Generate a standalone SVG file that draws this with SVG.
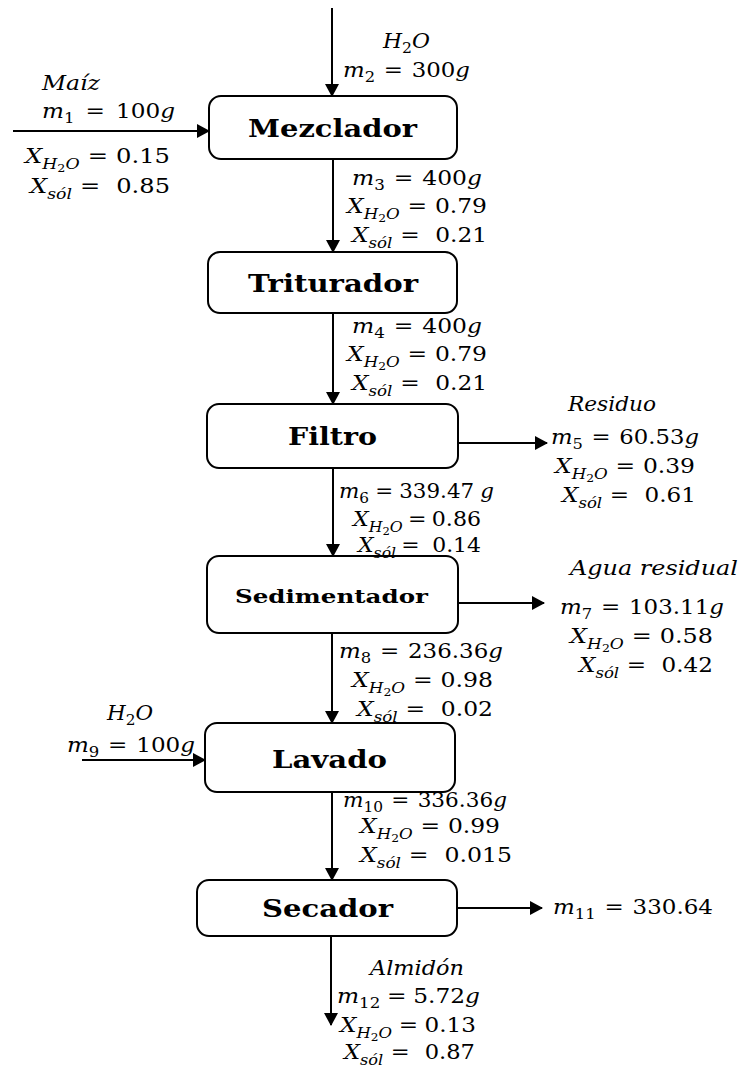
<svg xmlns="http://www.w3.org/2000/svg" width="743" height="1067" viewBox="0 0 743 1067">
<style>
.box{fill:#fff;stroke:#000;stroke-width:2}
.ttl{font-family:"DejaVu Serif","Liberation Serif",serif;font-weight:bold;font-size:24px;fill:#000}
.t{font-family:"DejaVu Serif","Liberation Serif",serif;font-size:21px;fill:#000}
.i{font-style:italic}
.s{font-size:15px}
.ss{font-size:11px}
.ln{stroke:#000;stroke-width:2;fill:none}
</style>
<defs>
<marker id="ah" markerUnits="userSpaceOnUse" markerWidth="13" markerHeight="14" refX="12" refY="7" orient="auto">
<path d="M0,0 L13,7 L0,14 z" fill="#000"/>
</marker>
</defs>
<rect width="743" height="1067" fill="#fff"/>

<g id="connectors">
<line class="ln" x1="332" y1="8" x2="332" y2="96" marker-end="url(#ah)"/>
<line class="ln" x1="13" y1="131" x2="209" y2="131" marker-end="url(#ah)"/>
<line class="ln" x1="333" y1="160" x2="333" y2="252" marker-end="url(#ah)"/>
<line class="ln" x1="333" y1="313" x2="333" y2="404" marker-end="url(#ah)"/>
<line class="ln" x1="458" y1="443" x2="547" y2="443" marker-end="url(#ah)"/>
<line class="ln" x1="333" y1="468" x2="333" y2="556" marker-end="url(#ah)"/>
<line class="ln" x1="453" y1="603" x2="544" y2="603" marker-end="url(#ah)"/>
<line class="ln" x1="332" y1="633" x2="332" y2="723" marker-end="url(#ah)"/>
<line class="ln" x1="82" y1="760" x2="205" y2="760" marker-end="url(#ah)"/>
<line class="ln" x1="332" y1="792" x2="332" y2="880" marker-end="url(#ah)"/>
<line class="ln" x1="454" y1="908" x2="542" y2="908" marker-end="url(#ah)"/>
<line class="ln" x1="331" y1="936" x2="331" y2="1025" marker-end="url(#ah)"/>
</g>

<g id="mezclador">
<rect class="box" x="209" y="96" width="248" height="63" rx="12"/>
<text class="ttl" x="248" y="137" textLength="169" lengthAdjust="spacingAndGlyphs">Mezclador</text>
</g>
<g id="triturador">
<rect class="box" x="208" y="252" width="249" height="61" rx="12"/>
<text class="ttl" x="248" y="292" textLength="170" lengthAdjust="spacingAndGlyphs">Triturador</text>
</g>
<g id="filtro">
<rect class="box" x="207" y="404" width="251" height="64" rx="12"/>
<text class="ttl" x="288" y="445" textLength="89" lengthAdjust="spacingAndGlyphs">Filtro</text>
</g>
<g id="sedimentador">
<rect class="box" x="207" y="556" width="251" height="77" rx="12"/>
<text class="ttl" x="235" y="603" textLength="193" lengthAdjust="spacingAndGlyphs" style="font-size:19px">Sedimentador</text>
</g>
<g id="lavado">
<rect class="box" x="205" y="723" width="250" height="69" rx="12"/>
<text class="ttl" x="272" y="768" textLength="115" lengthAdjust="spacingAndGlyphs">Lavado</text>
</g>
<g id="secador">
<rect class="box" x="197" y="880" width="260" height="56" rx="12"/>
<text class="ttl" x="262" y="917" textLength="131" lengthAdjust="spacingAndGlyphs">Secador</text>
</g>

<g id="labels">
<!-- stream 2 -->
<text class="t" x="383" y="48" textLength="47" lengthAdjust="spacingAndGlyphs"><tspan class="i">H</tspan><tspan class="s" dy="5">2</tspan><tspan class="i" dy="-5">O</tspan></text>
<text class="t" x="343" y="77" textLength="127" lengthAdjust="spacingAndGlyphs"><tspan class="i">m</tspan><tspan class="s" dy="5">2</tspan><tspan dy="-5" dx="8">=</tspan><tspan dx="8">300</tspan><tspan class="i">g</tspan></text>
<!-- stream 1 -->
<text class="t i" x="42" y="90" textLength="58" lengthAdjust="spacingAndGlyphs">Maíz</text>
<text class="t" x="42" y="118" textLength="133" lengthAdjust="spacingAndGlyphs"><tspan class="i">m</tspan><tspan class="s" dy="5">1</tspan><tspan dy="-5" dx="10">=</tspan><tspan dx="10">100</tspan><tspan class="i">g</tspan></text>
<text class="t" x="25" y="163" textLength="145" lengthAdjust="spacingAndGlyphs"><tspan class="i">X</tspan><tspan class="s i" dy="6">H</tspan><tspan class="ss" dy="3">2</tspan><tspan class="s i" dy="-3">O</tspan><tspan dy="-6" dx="7">=</tspan><tspan dx="7">0.15</tspan></text>
<text class="t" x="30" y="193" textLength="140" lengthAdjust="spacingAndGlyphs"><tspan class="i">X</tspan><tspan class="s i" dy="6">sól</tspan><tspan dy="-6" dx="7">=</tspan><tspan dx="14">0.85</tspan></text>
<!-- stream 3 -->
<text class="t" x="352" y="185" textLength="130" lengthAdjust="spacingAndGlyphs"><tspan class="i">m</tspan><tspan class="s" dy="5">3</tspan><tspan dy="-5" dx="8">=</tspan><tspan dx="8">400</tspan><tspan class="i">g</tspan></text>
<text class="t" x="347" y="213" textLength="140" lengthAdjust="spacingAndGlyphs"><tspan class="i">X</tspan><tspan class="s i" dy="6">H</tspan><tspan class="ss" dy="3">2</tspan><tspan class="s i" dy="-3">O</tspan><tspan dy="-6" dx="7">=</tspan><tspan dx="7">0.79</tspan></text>
<text class="t" x="352" y="242" textLength="135" lengthAdjust="spacingAndGlyphs"><tspan class="i">X</tspan><tspan class="s i" dy="6">sól</tspan><tspan dy="-6" dx="7">=</tspan><tspan dx="14">0.21</tspan></text>
<!-- stream 4 -->
<text class="t" x="352" y="333" textLength="130" lengthAdjust="spacingAndGlyphs"><tspan class="i">m</tspan><tspan class="s" dy="5">4</tspan><tspan dy="-5" dx="8">=</tspan><tspan dx="8">400</tspan><tspan class="i">g</tspan></text>
<text class="t" x="347" y="361" textLength="140" lengthAdjust="spacingAndGlyphs"><tspan class="i">X</tspan><tspan class="s i" dy="6">H</tspan><tspan class="ss" dy="3">2</tspan><tspan class="s i" dy="-3">O</tspan><tspan dy="-6" dx="7">=</tspan><tspan dx="7">0.79</tspan></text>
<text class="t" x="352" y="390" textLength="135" lengthAdjust="spacingAndGlyphs"><tspan class="i">X</tspan><tspan class="s i" dy="6">sól</tspan><tspan dy="-6" dx="7">=</tspan><tspan dx="14">0.21</tspan></text>
<!-- stream 5 -->
<text class="t i" x="568" y="411" textLength="88" lengthAdjust="spacingAndGlyphs">Residuo</text>
<text class="t" x="551" y="444" textLength="148" lengthAdjust="spacingAndGlyphs"><tspan class="i">m</tspan><tspan class="s" dy="5">5</tspan><tspan dy="-5" dx="8">=</tspan><tspan dx="8">60.53</tspan><tspan class="i">g</tspan></text>
<text class="t" x="555" y="473" textLength="140" lengthAdjust="spacingAndGlyphs"><tspan class="i">X</tspan><tspan class="s i" dy="6">H</tspan><tspan class="ss" dy="3">2</tspan><tspan class="s i" dy="-3">O</tspan><tspan dy="-6" dx="7">=</tspan><tspan dx="7">0.39</tspan></text>
<text class="t" x="562" y="502" textLength="134" lengthAdjust="spacingAndGlyphs"><tspan class="i">X</tspan><tspan class="s i" dy="6">sól</tspan><tspan dy="-6" dx="7">=</tspan><tspan dx="14">0.61</tspan></text>
<!-- stream 6 -->
<text class="t" x="339" y="498" textLength="155" lengthAdjust="spacingAndGlyphs"><tspan class="i">m</tspan><tspan class="s" dy="5">6</tspan><tspan dy="-5" dx="6">=</tspan><tspan dx="6">339.47</tspan><tspan class="i" dx="6">g</tspan></text>
<text class="t" x="353" y="526" textLength="128" lengthAdjust="spacingAndGlyphs"><tspan class="i">X</tspan><tspan class="s i" dy="6">H</tspan><tspan class="ss" dy="3">2</tspan><tspan class="s i" dy="-3">O</tspan><tspan dy="-6" dx="5">=</tspan><tspan dx="5">0.86</tspan></text>
<text class="t" x="358" y="552" textLength="123" lengthAdjust="spacingAndGlyphs"><tspan class="i">X</tspan><tspan class="s i" dy="6">sól</tspan><tspan dy="-6" dx="5">=</tspan><tspan dx="12">0.14</tspan></text>
<!-- stream 7 -->
<text class="t i" x="570" y="575" textLength="168" lengthAdjust="spacingAndGlyphs">Agua residual</text>
<text class="t" x="560" y="614" textLength="164" lengthAdjust="spacingAndGlyphs"><tspan class="i">m</tspan><tspan class="s" dy="5">7</tspan><tspan dy="-5" dx="8">=</tspan><tspan dx="8">103.11</tspan><tspan class="i">g</tspan></text>
<text class="t" x="570" y="643" textLength="143" lengthAdjust="spacingAndGlyphs"><tspan class="i">X</tspan><tspan class="s i" dy="6">H</tspan><tspan class="ss" dy="3">2</tspan><tspan class="s i" dy="-3">O</tspan><tspan dy="-6" dx="7">=</tspan><tspan dx="7">0.58</tspan></text>
<text class="t" x="579" y="672" textLength="134" lengthAdjust="spacingAndGlyphs"><tspan class="i">X</tspan><tspan class="s i" dy="6">sól</tspan><tspan dy="-6" dx="7">=</tspan><tspan dx="14">0.42</tspan></text>
<!-- stream 8 -->
<text class="t" x="339" y="658" textLength="164" lengthAdjust="spacingAndGlyphs"><tspan class="i">m</tspan><tspan class="s" dy="5">8</tspan><tspan dy="-5" dx="8">=</tspan><tspan dx="8">236.36</tspan><tspan class="i">g</tspan></text>
<text class="t" x="352" y="687" textLength="141" lengthAdjust="spacingAndGlyphs"><tspan class="i">X</tspan><tspan class="s i" dy="6">H</tspan><tspan class="ss" dy="3">2</tspan><tspan class="s i" dy="-3">O</tspan><tspan dy="-6" dx="7">=</tspan><tspan dx="7">0.98</tspan></text>
<text class="t" x="357" y="716" textLength="136" lengthAdjust="spacingAndGlyphs"><tspan class="i">X</tspan><tspan class="s i" dy="6">sól</tspan><tspan dy="-6" dx="7">=</tspan><tspan dx="14">0.02</tspan></text>
<!-- stream 9 -->
<text class="t" x="107" y="720" textLength="46" lengthAdjust="spacingAndGlyphs"><tspan class="i">H</tspan><tspan class="s" dy="5">2</tspan><tspan class="i" dy="-5">O</tspan></text>
<text class="t" x="67" y="752" textLength="128" lengthAdjust="spacingAndGlyphs"><tspan class="i">m</tspan><tspan class="s" dy="5">9</tspan><tspan dy="-5" dx="8">=</tspan><tspan dx="8">100</tspan><tspan class="i">g</tspan></text>
<!-- stream 10 -->
<text class="t" x="343" y="807" textLength="164" lengthAdjust="spacingAndGlyphs"><tspan class="i">m</tspan><tspan class="s" dy="5">10</tspan><tspan dy="-5" dx="8">=</tspan><tspan dx="8">336.36</tspan><tspan class="i">g</tspan></text>
<text class="t" x="360" y="833" textLength="140" lengthAdjust="spacingAndGlyphs"><tspan class="i">X</tspan><tspan class="s i" dy="6">H</tspan><tspan class="ss" dy="3">2</tspan><tspan class="s i" dy="-3">O</tspan><tspan dy="-6" dx="7">=</tspan><tspan dx="7">0.99</tspan></text>
<text class="t" x="360" y="862" textLength="152" lengthAdjust="spacingAndGlyphs"><tspan class="i">X</tspan><tspan class="s i" dy="6">sól</tspan><tspan dy="-6" dx="7">=</tspan><tspan dx="14">0.015</tspan></text>
<!-- stream 11 -->
<text class="t" x="553" y="914" textLength="160" lengthAdjust="spacingAndGlyphs"><tspan class="i">m</tspan><tspan class="s" dy="5">11</tspan><tspan dy="-5" dx="8">=</tspan><tspan dx="8">330.64</tspan></text>
<!-- stream 12 -->
<text class="t i" x="370" y="975" textLength="94" lengthAdjust="spacingAndGlyphs">Almidón</text>
<text class="t" x="337" y="1003" textLength="143" lengthAdjust="spacingAndGlyphs"><tspan class="i">m</tspan><tspan class="s" dy="5">12</tspan><tspan dy="-5" dx="6">=</tspan><tspan dx="6">5.72</tspan><tspan class="i">g</tspan></text>
<text class="t" x="340" y="1032" textLength="136" lengthAdjust="spacingAndGlyphs"><tspan class="i">X</tspan><tspan class="s i" dy="6">H</tspan><tspan class="ss" dy="3">2</tspan><tspan class="s i" dy="-3">O</tspan><tspan dy="-6" dx="6">=</tspan><tspan dx="6">0.13</tspan></text>
<text class="t" x="344" y="1059" textLength="131" lengthAdjust="spacingAndGlyphs"><tspan class="i">X</tspan><tspan class="s i" dy="6">sól</tspan><tspan dy="-6" dx="7">=</tspan><tspan dx="14">0.87</tspan></text>
</g>
</svg>
